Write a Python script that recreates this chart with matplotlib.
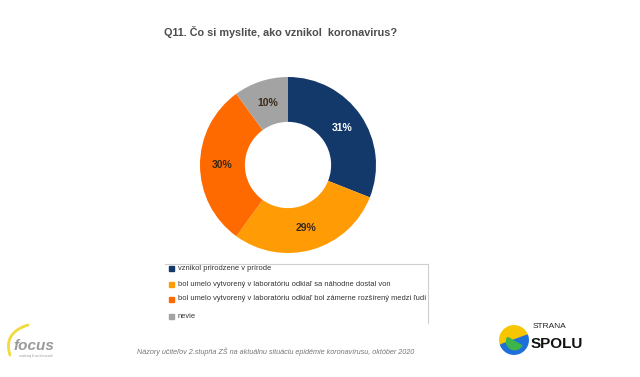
import matplotlib
matplotlib.use("Agg")
import matplotlib.pyplot as plt
from matplotlib.patches import Wedge, Rectangle
from matplotlib.lines import Line2D
import numpy as np

plt.rcParams['font.family'] = ['Liberation Sans', 'DejaVu Sans']

title = "Q11. Čo si myslite, ako vznikol  koronavirus?"
categories = [
    "vznikol prirodzene v prírode",
    "bol umelo vytvorený v laboratóriu odkiaľ sa náhodne dostal von",
    "bol umelo vytvorený v laboratóriu odkiaľ bol zámerne rozšírený medzi ľudí",
    "nevie",
]
values = [31, 29, 30, 10]
colors = ["#13386A", "#FF9C05", "#FF6A00", "#A3A3A3"]
label_colors = ["white", "#3a2a1a", "#3a2a1a", "#3a2a1a"]
footer = "Názory učiteľov 2.stupňa ZŠ na aktuálnu situáciu epidémie koronavírusu, október 2020"

W, H = 640, 377
fig = plt.figure(figsize=(W / 100, H / 100), dpi=100)
fig.patch.set_facecolor("white")

def fx(x):
    return x / W

def fy(y):
    return 1 - y / H

# Title
fig.text(fx(281), fy(32), title, ha="center", va="center", fontsize=7.8,
         fontweight="bold", color="#4d4d4d")

# Donut
cx, cy, r = 288, 165, 88
ax = fig.add_axes([fx(cx - r), fy(cy + r), 2 * r / W, 2 * r / H])
wedges, texts = ax.pie(values, colors=colors, startangle=90, counterclock=False,
                       radius=1, wedgeprops=dict(width=0.51, edgecolor="none"))
for w, v, lc in zip(wedges, values, label_colors):
    ang = np.deg2rad((w.theta1 + w.theta2) / 2)
    rr = 0.745
    ax.text(rr * np.cos(ang), rr * np.sin(ang), f"{v}%", ha="center", va="center",
            fontsize=7.5, fontweight="bold", color=lc)
ax.set_xlim(-1, 1)
ax.set_ylim(-1, 1)
ax.set_aspect("equal")
ax.axis("off")

# Legend box lines
fig.add_artist(Line2D([fx(165), fx(428)], [fy(264), fy(264)], color="#cfcfcf", lw=0.8))
fig.add_artist(Line2D([fx(428), fx(428)], [fy(264), fy(323)], color="#cfcfcf", lw=0.8))
leg_y = [268, 284, 299, 316]
for cat, col, y in zip(categories, colors, leg_y):
    fig.add_artist(Rectangle((fx(169), fy(y + 2.5)), 5 / W, 5 / H, color=col,
                             transform=fig.transFigure))
    fig.text(fx(177.5), fy(y), cat, ha="left", va="center", fontsize=5.4, color="#333333")

# Footer
fig.text(fx(275.5), fy(352), footer, ha="center", va="center", fontsize=5.2,
         style="italic", color="#777777")

# Focus logo (approximation)
lax = fig.add_axes([0, 0, 1, 1])
lax.set_xlim(0, W)
lax.set_ylim(H, 0)
lax.axis("off")
s = np.linspace(0, 1, 50)
p0, p1, p2 = np.array([10, 355]), np.array([3, 333]), np.array([28, 325])
curve = ((1 - s) ** 2)[:, None] * p0 + (2 * s * (1 - s))[:, None] * p1 + (s ** 2)[:, None] * p2
lax.plot(curve[:, 0], curve[:, 1], color="#F2DA3C", lw=2.0, solid_capstyle="round")
lax.text(33.5, 346, "focus", ha="center", va="center", fontsize=11, fontweight="bold",
         style="italic", color="#9a9a9a")
lax.text(36, 356, "marketing & social research", ha="center", va="center", fontsize=2,
         color="#9a9a9a")

# SPOLU logo (approximation)
sax = fig.add_axes([fx(499), fy(356), 30 / W, 32 / H])
sax.set_xlim(-1, 1)
sax.set_ylim(-1, 1)
sax.set_aspect("equal")
sax.axis("off")
sax.add_patch(Wedge((0, 0), 0.95, 20, 200, color="#F7C600"))
sax.add_patch(Wedge((0, 0), 0.95, 200, 380, color="#1E6FD9"))
sax.add_patch(Wedge((0.05, -0.1), 0.55, 150, 330, color="#3CB54A"))
fig.text(fx(533), fy(326), "STRANA", ha="left", va="center", fontsize=6,
         color="#222222")
fig.text(fx(531), fy(344), "SPOLU", ha="left", va="center", fontsize=11,
         fontweight="bold", color="#111111")

fig.savefig("out.png", dpi=100, facecolor="white")
